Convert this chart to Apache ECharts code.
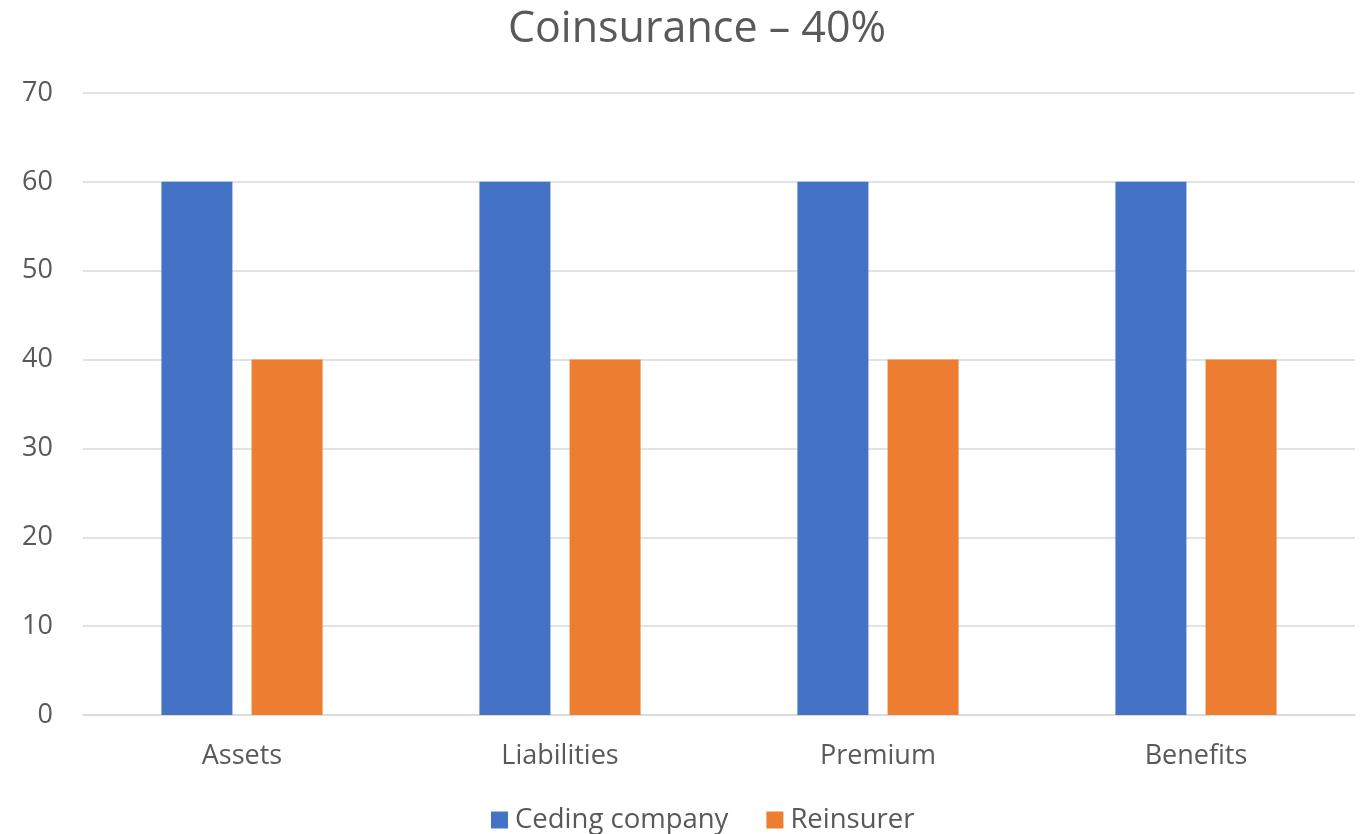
<!DOCTYPE html>
<html>
<head>
<meta charset="utf-8">
<script src="https://cdn.jsdelivr.net/npm/echarts@6/dist/echarts.min.js"></script>
<style>html,body{margin:0;padding:0;background:#fff}#c{width:1361px;height:834px}</style>
</head>
<body>
<div id="c"></div>
<script>
const categories = ['Assets', 'Liabilities', 'Premium', 'Benefits'];
const cedingCompany = [60, 60, 60, 60];
const reinsurer = [40, 40, 40, 40];
const yTicks = [0, 10, 20, 30, 40, 50, 60, 70];

const chart = echarts.init(document.getElementById('c'));
const font = '"Open Sans", "Noto Sans", sans-serif';
chart.setOption({
  animation: false,
  textStyle: { fontFamily: font },
  title: {
    text: 'Coinsurance – 40%',
    left: 692, top: 3, textAlign: 'center',
    textStyle: { fontSize: 43, fontWeight: 'normal', color: '#595959', fontFamily: font }
  },
  legend: {
    bottom: -5, left: 486,
    itemWidth: 17, itemHeight: 17, itemGap: 38,
    icon: 'rect',
    textStyle: { fontSize: 27.5, color: '#595959', fontFamily: font, padding: [0, 0, 0, 2] },
    data: ['Ceding company', 'Reinsurer']
  },
  grid: { left: 83, right: 6, top: 93, bottom: 119, containLabel: false },
  xAxis: {
    type: 'category', data: categories,
    axisLine: { lineStyle: { color: '#d9d9d9', width: 1.5 } },
    axisTick: { show: false },
    axisLabel: { fontSize: 27, color: '#595959', margin: 28, fontFamily: font }
  },
  yAxis: {
    type: 'value', min: yTicks[0], max: yTicks[yTicks.length - 1], interval: 10,
    axisLine: { show: false }, axisTick: { show: false },
    axisLabel: { fontSize: 27, color: '#595959', margin: 30, fontFamily: font },
    splitLine: { lineStyle: { color: '#d9d9d9', width: 1.5 } }
  },
  series: [
    { name: 'Ceding company', type: 'bar', data: cedingCompany, barWidth: 71, barGap: '27%', itemStyle: { color: '#4472C4' } },
    { name: 'Reinsurer', type: 'bar', data: reinsurer, barWidth: 71, itemStyle: { color: '#ED7D31' } }
  ]
});
</script>
</body>
</html>
